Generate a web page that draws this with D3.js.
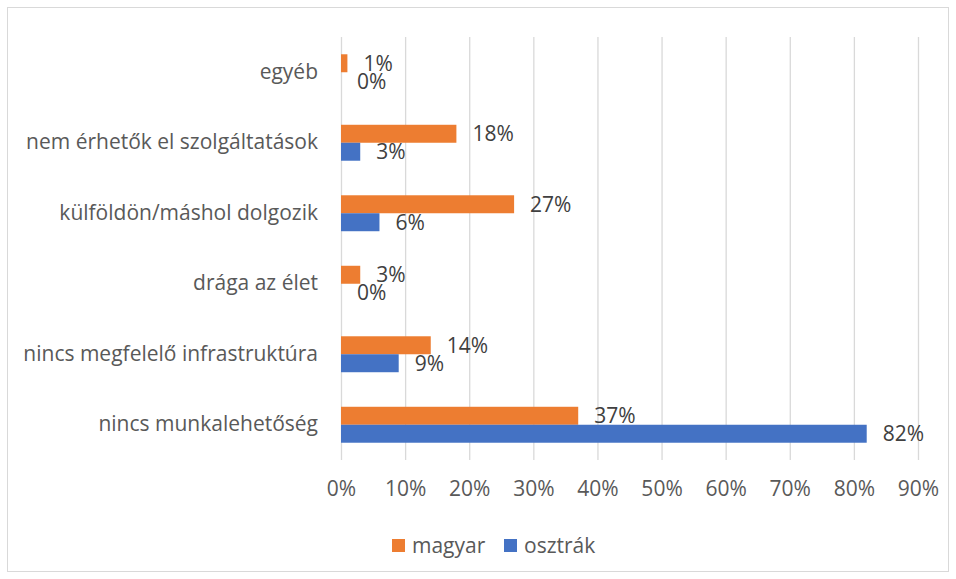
<!DOCTYPE html>
<html>
<head>
<meta charset="utf-8">
<script src="https://cdn.jsdelivr.net/npm/d3@7"></script>
<style>
  body { margin: 0; background: #fff; }
  svg { font-family: "Open Sans", sans-serif; }
</style>
</head>
<body>
<div id="chart"></div>
<script>
// categories, top to bottom
var categories = ['egyéb', 'nem érhetők el szolgáltatások', 'külföldön/máshol dolgozik',
  'drága az élet', 'nincs megfelelő infrastruktúra', 'nincs munkalehetőség'];
var seriesNames = ['magyar', 'osztrák'];
var magyar = [0.01, 0.18, 0.27, 0.03, 0.14, 0.37];
var osztrak = [0, 0.03, 0.06, 0, 0.09, 0.82];
var ticks = [0, 0.1, 0.2, 0.3, 0.4, 0.5, 0.6, 0.7, 0.8, 0.9];

var colors = { magyar: '#ED7D31', 'osztrák': '#4472C4' };
var textColor = '#595959';
var fontSize = 21;

var width = 956, height = 579;

var svg = d3.select('#chart').append('svg')
  .attr('width', width)
  .attr('height', height);

// chart frame
svg.append('rect')
  .attr('x', 7.5).attr('y', 7.5)
  .attr('width', 941).attr('height', 564)
  .attr('fill', 'none')
  .attr('stroke', '#d9d9d9');

var x = d3.scaleLinear().domain([0, 0.9]).range([341, 918]);

var y = d3.scaleBand()
  .domain(categories)
  .range([37, 460])
  .paddingInner(0.49)
  .paddingOuter(0.245);

var ySub = d3.scaleBand()
  .domain(seriesNames)
  .range([0, y.bandwidth()]);

// gridlines + tick labels
var xAxis = svg.append('g')
  .attr('transform', 'translate(0,460)')
  .call(d3.axisBottom(x).tickValues(ticks).tickFormat(d3.format('.0%'))
    .tickSize(-(460 - 37)).tickPadding(21));
xAxis.select('.domain').remove();
xAxis.selectAll('line').attr('stroke', '#d9d9d9').attr('stroke-width', 1.3);
xAxis.selectAll('text').attr('fill', textColor).attr('font-size', fontSize)
  .attr('font-family', '"Open Sans", sans-serif');

// category labels
var yAxis = svg.append('g')
  .attr('transform', 'translate(341,0)')
  .call(d3.axisLeft(y).tickSize(0).tickPadding(23));
yAxis.select('.domain').remove();
yAxis.selectAll('text').attr('fill', textColor).attr('font-size', fontSize)
  .attr('font-family', '"Open Sans", sans-serif');

var rows = categories.map(function(c, i) {
  return [
    { cat: c, series: 'magyar', value: magyar[i] },
    { cat: c, series: 'osztrák', value: osztrak[i] }
  ];
}).flat();

svg.selectAll('.bar')
  .data(rows)
  .enter().append('rect')
  .attr('class', 'bar')
  .attr('x', x(0))
  .attr('y', function(d) { return y(d.cat) + ySub(d.series); })
  .attr('width', function(d) { return x(d.value) - x(0); })
  .attr('height', ySub.bandwidth())
  .attr('fill', function(d) { return colors[d.series]; });

svg.selectAll('.label')
  .data(rows)
  .enter().append('text')
  .attr('class', 'label')
  .attr('x', function(d) { return x(d.value) + 16; })
  .attr('y', function(d) { return y(d.cat) + ySub(d.series) + ySub.bandwidth() / 2; })
  .attr('dy', '0.35em')
  .attr('fill', '#404040')
  .attr('font-size', fontSize)
  .text(function(d) { return d3.format('.0%')(d.value); });

// legend
var legend = svg.append('g')
  .selectAll('g')
  .data(seriesNames)
  .enter().append('g')
  .attr('transform', function(d, i) { return 'translate(' + (i === 0 ? 392 : 504) + ',539)'; });

legend.append('rect')
  .attr('width', 13).attr('height', 13)
  .attr('fill', function(d) { return colors[d]; });

legend.append('text')
  .attr('x', 20).attr('y', 6.5)
  .attr('dy', '0.35em')
  .attr('fill', textColor)
  .attr('font-size', fontSize)
  .text(function(d) { return d; });
</script>
</body>
</html>
